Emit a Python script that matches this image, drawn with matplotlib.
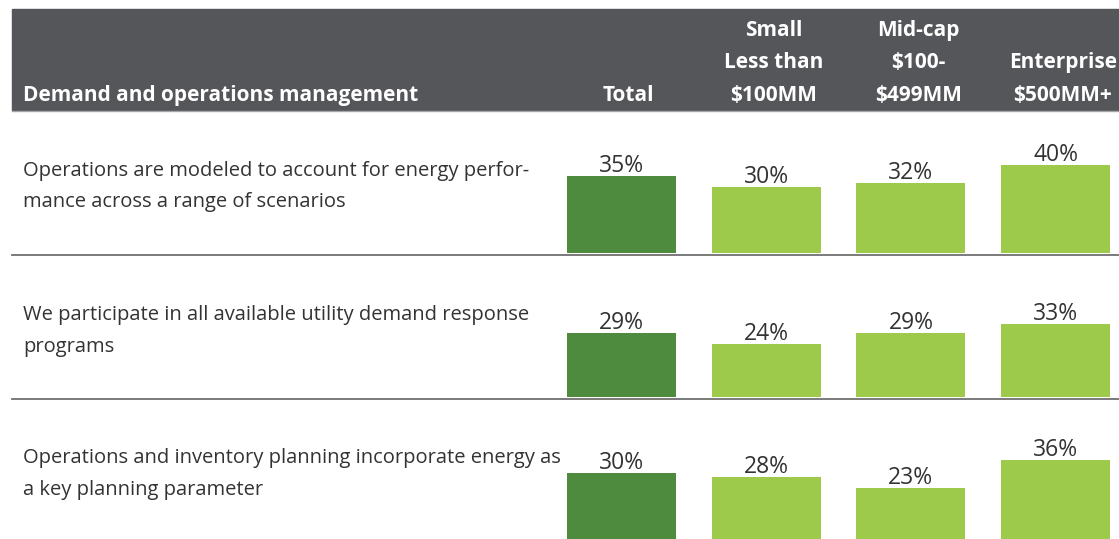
import matplotlib.pyplot as plt
import matplotlib.transforms as mtransforms
from matplotlib.patches import Rectangle

plt.rcParams["font.family"] = ["Open Sans", "DejaVu Sans"]

# data
title = "Demand and operations management"
col_headers = [
    ["Total"],
    ["Small", "Less than", "$100MM"],
    ["Mid-cap", "$100-", "$499MM"],
    ["Enterprise", "$500MM+"],
]
row_labels = [
    "Operations are modeled to account for energy perfor-\nmance across a range of scenarios",
    "We participate in all available utility demand response\nprograms",
    "Operations and inventory planning incorporate energy as\na key planning parameter",
]
total = [35, 29, 30]
small = [30, 24, 28]
midcap = [32, 29, 23]
enterprise = [40, 33, 36]

dark_green = "#4e8b3f"
light_green = "#9dca4a"
header_gray = "#55565a"
text_col = "#333333"

W, H = 1119, 539
fig = plt.figure(figsize=(W / 100, H / 100), dpi=100)

# header band
fig.patches.append(Rectangle((12 / W, 1 - 110 / H), 1 - 12 / W, 101 / H,
                             transform=fig.transFigure, color=header_gray, zorder=0))
fig.add_artist(plt.Line2D([12 / W, 1], [1 - 110.5 / H] * 2, color="#a5a5a5", lw=1,
                          transform=fig.transFigure))

rows = [(110, 255), (255, 399), (399, 541)]
px_per_unit = 144.7
px_per_pct = 2.2
axes = []
for r, (top, bot) in enumerate(rows):
    ax = fig.add_axes([12 / W, 1 - bot / H, 1 - 12 / W, (bot - top) / H])
    ax.set_xlim(-(621.5 - 12) / px_per_unit, (W - 621.5) / px_per_unit)
    ax.set_ylim(-2 / px_per_pct, (bot - top - 2) / px_per_pct)
    vals = [total[r], small[r], midcap[r], enterprise[r]]
    bars = ax.bar(range(4), vals, width=109 / px_per_unit,
                  color=[dark_green, light_green, light_green, light_green])
    ax.bar_label(bars, labels=[f"{v}%" for v in vals], padding=-1.5,
                 fontsize=16.5, color=text_col)
    ax.text(11 / 1107, 0.5 - 4 / (bot - top), row_labels[r], transform=ax.transAxes,
            ha="left", va="center", fontsize=14.5, color=text_col, linespacing=1.75)
    for s in ["top", "left", "right"]:
        ax.spines[s].set_visible(False)
    if r < 2:
        ax.spines["bottom"].set_color("#707070")
        ax.spines["bottom"].set_linewidth(1.3)
    else:
        ax.spines["bottom"].set_visible(False)
    ax.set_xticks([])
    ax.set_yticks([])
    ax.patch.set_alpha(0)
    axes.append(ax)

# header texts
trans = mtransforms.blended_transform_factory(axes[0].transData, fig.transFigure)
baselines = [101, 68, 36]
for i, lines in enumerate(col_headers):
    for k, line in enumerate(reversed(lines)):
        fig.text(i + 0.05, 1 - baselines[k] / H, line, transform=trans, ha="center",
                 va="baseline", fontsize=15, fontweight="bold", color="white")
fig.text(23 / W, 1 - 101 / H, title, ha="left", va="baseline", fontsize=15,
         fontweight="bold", color="white")

fig.savefig("out.png", dpi=100, facecolor="white")
